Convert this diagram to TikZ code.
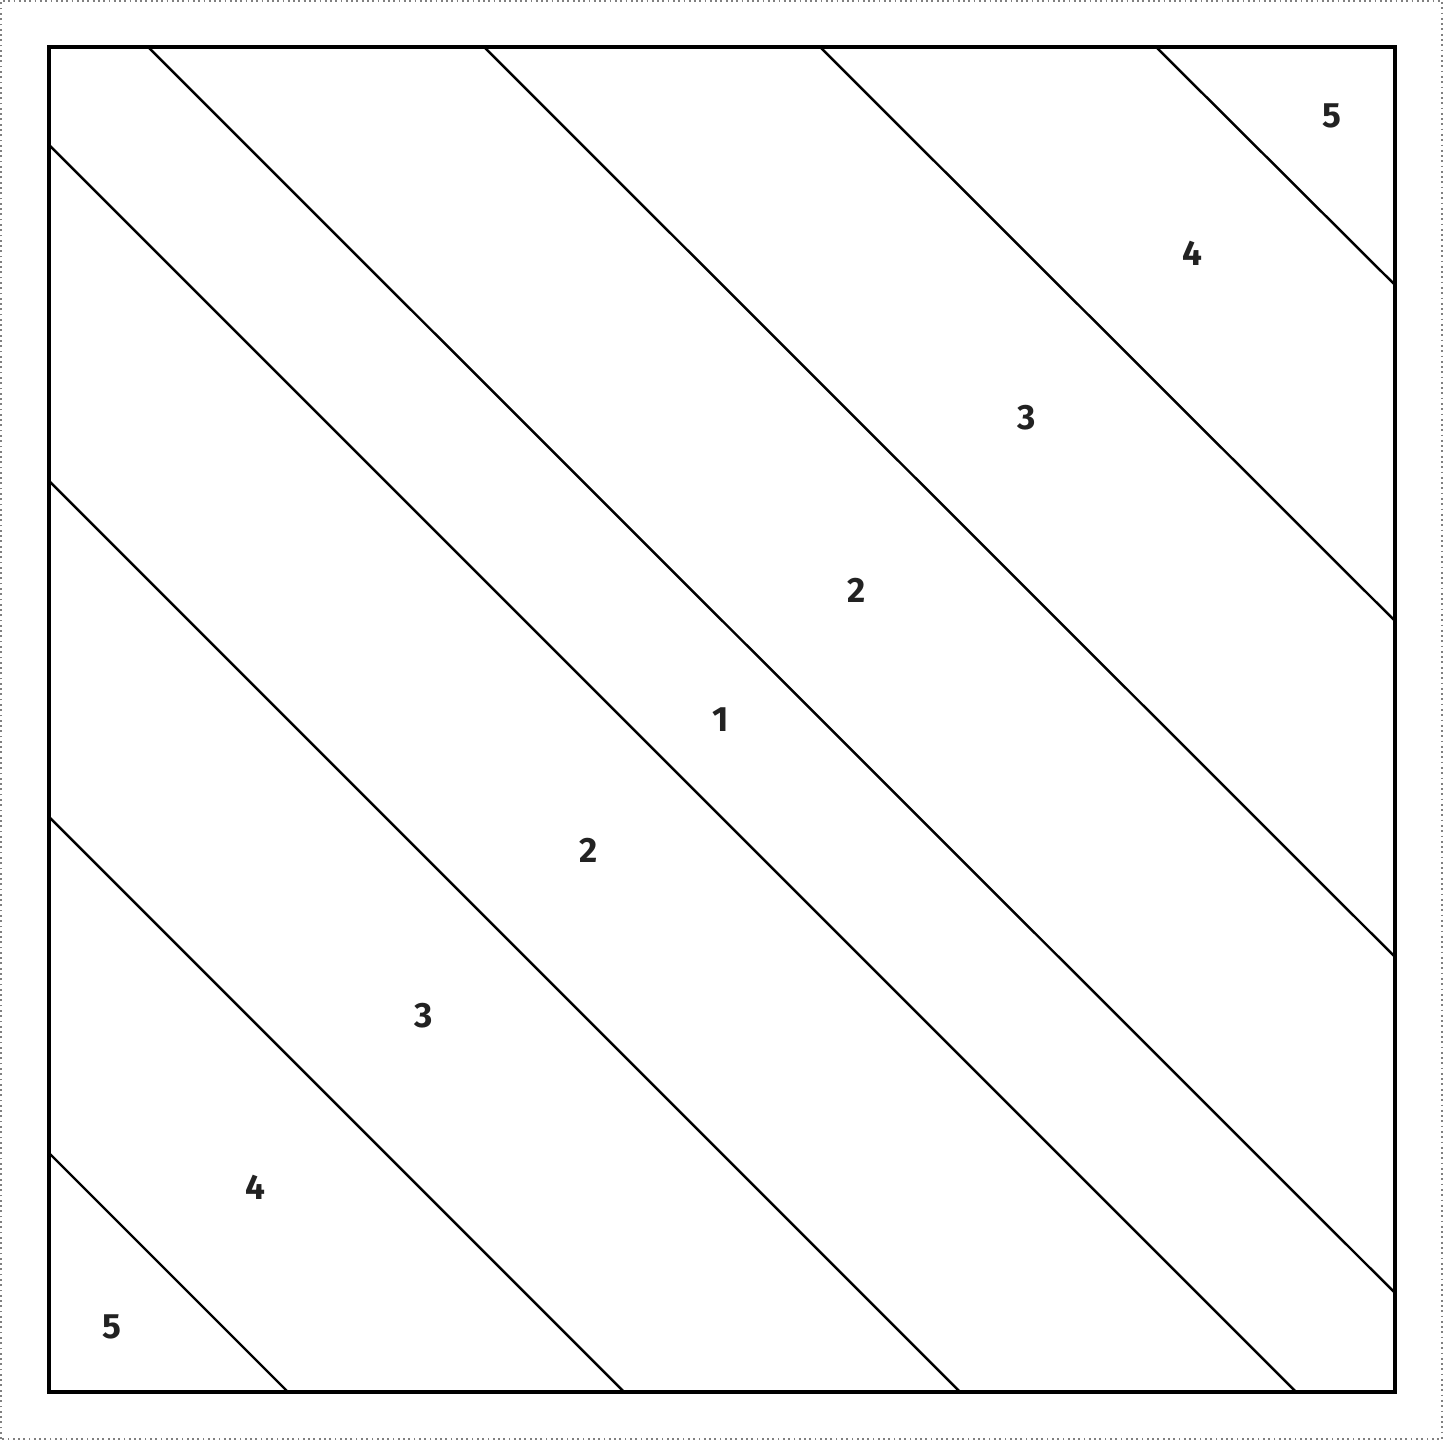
\documentclass[tikz,border=0pt]{standalone}
\usepackage{fontspec}
\setsansfont{Fira Sans}
\definecolor{bandgray}{RGB}{34,34,34}
\usetikzlibrary{positioning,calc}

\begin{document}
\begin{tikzpicture}[x=0.01cm, y=0.01cm,
    frame/.style={draw=black, line width=1pt},
    border/.style={draw=gray, densely dotted, line width=0.5pt},
    bandline/.style={draw=black, line width=0.7pt},
    band/.style={font=\sffamily\bfseries\fontsize{10}{11}\selectfont, text=bandgray, inner sep=0pt}
]
    \useasboundingbox (0,0) rectangle (1443,1440);
    \draw[border] (1,1) rectangle (1442,1439);

    % square
    \coordinate (sw) at (49,48);
    \coordinate (ne) at (1395,1393);
    \draw[frame] (sw) rectangle (ne);

    % diagonal bands
    \foreach \a in {99,435,771,1107} {
        \draw[bandline] ($(sw)+(\a,1345)$) -- ($(sw)+(1346,\a)$);
        \draw[bandline] ($(sw)+(0,1346-\a)$) -- ($(sw)+(1346-\a,0)$);
    }

    % labels
    \node[band] (b1) at (721,720) {1};
    \node[band] (b2u) at (857,850) {2};
    \node[band] (b2l) at (589,590) {2};
    \node[band] (b3u) at (1027,1022) {3};
    \node[band] (b3l) at (424,424) {3};
    \node[band] (b4u) at (1192,1187) {4};
    \node[band] (b4l) at (255,253) {4};
    \node[band] (b5u) at (1332,1324) {5};
    \node[band] (b5l) at (112,113) {5};
\end{tikzpicture}
\end{document}
